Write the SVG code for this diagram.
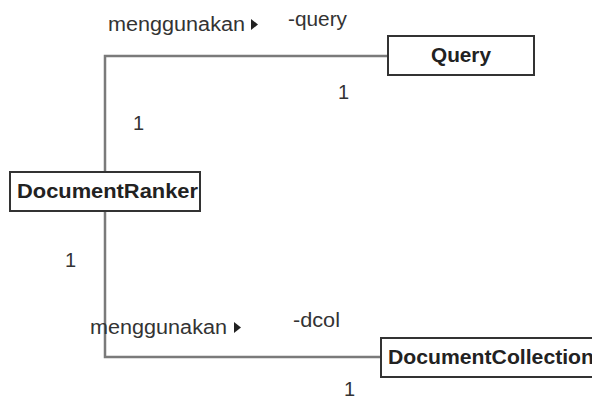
<svg xmlns="http://www.w3.org/2000/svg" width="592" height="403" viewBox="0 0 592 403">
<style>
.box{fill:#fff;stroke:#333;stroke-width:2}
.name{font-family:"Liberation Sans",Arial,sans-serif;font-weight:bold;font-size:20.5px;fill:#222}
.lbl{font-family:"Liberation Sans",Arial,sans-serif;font-size:20px;fill:#333}
.conn{fill:none;stroke:#7a7a7a;stroke-width:2.5}
.tri{fill:#222}
</style>
<rect width="592" height="403" fill="#fff"/>
<g id="connectors">
<polyline class="conn" points="105,172 105,56 388,56"/>
<polyline class="conn" points="105,211 105,357 381,357"/>
</g>
<g id="labels">
<text class="lbl" x="108" y="31" textLength="137" lengthAdjust="spacingAndGlyphs">menggunakan</text>
<polygon class="tri" points="251,19 258,24.5 251,30"/>
<text class="lbl" x="288" y="26" textLength="59" lengthAdjust="spacingAndGlyphs">-query</text>
<text class="lbl" x="338" y="99">1</text>
<text class="lbl" x="133" y="130">1</text>
<text class="lbl" x="65" y="267">1</text>
<text class="lbl" x="90" y="334" textLength="137" lengthAdjust="spacingAndGlyphs">menggunakan</text>
<polygon class="tri" points="234,322 241,327.5 234,333"/>
<text class="lbl" x="293" y="327" textLength="47" lengthAdjust="spacingAndGlyphs">-dcol</text>
<text class="lbl" x="344" y="396">1</text>
</g>
<g id="Query">
<rect class="box" x="388" y="36" width="146" height="39"/>
<text class="name" x="461" y="62" text-anchor="middle" textLength="60" lengthAdjust="spacingAndGlyphs">Query</text>
</g>
<g id="DocumentRanker">
<rect class="box" x="10" y="172" width="190" height="39"/>
<text class="name" x="17" y="198" textLength="181" lengthAdjust="spacingAndGlyphs">DocumentRanker</text>
</g>
<g id="DocumentCollection">
<rect class="box" x="381" y="338" width="225" height="39"/>
<text class="name" x="388" y="364" textLength="206" lengthAdjust="spacingAndGlyphs">DocumentCollection</text>
</g>
</svg>
